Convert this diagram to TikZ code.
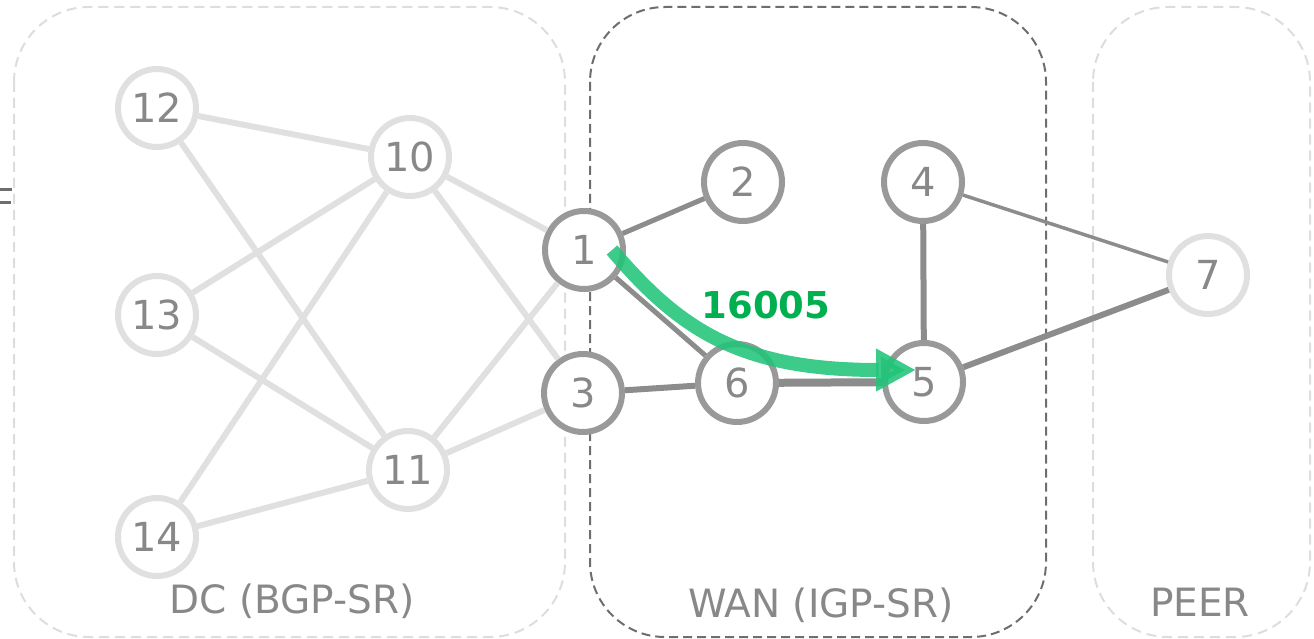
\documentclass[tikz,border=0pt]{standalone}
\usepackage{fontspec}
\setmainfont{DejaVu Sans}
\usetikzlibrary{arrows.meta}
\definecolor{lightg}{HTML}{E0E0E0}
\definecolor{darkg}{HTML}{999999}
\definecolor{edgeg}{HTML}{8C8C8C}
\definecolor{txtg}{HTML}{888888}
\definecolor{boxdark}{HTML}{6E6E6E}
\definecolor{boxlight}{HTML}{DDDDDD}
\definecolor{arrowgreen}{HTML}{22C47A}
\definecolor{labelgreen}{HTML}{00B050}
\tikzset{
  nd/.style={circle, minimum size=78pt, inner sep=0pt, line width=6pt, fill=white,
     text=txtg, font=\fontsize{40}{44}\selectfont},
  ndlight/.style={nd, draw=lightg},
  nddark/.style={nd, draw=darkg},
  ledge/.style={draw=lightg, line width=6pt},
  dedge/.style={draw=edgeg, line width=#1},
  regionlight/.style={draw=boxlight, line width=2pt, dash pattern=on 10pt off 6pt, rounded corners=75pt},
  regiondark/.style={draw=boxdark, line width=2pt, dash pattern=on 9pt off 5pt, rounded corners=75pt},
  regionlabel/.style={text=txtg, font=\fontsize{39}{42}\selectfont, inner sep=0pt},
}
\begin{document}
\begin{tikzpicture}[x=1pt, y=-1pt]
\useasboundingbox (0,0) rectangle (1314,639);
% regions
\draw[regionlight] (14,7) rectangle (565,637);
\draw[regiondark] (590,7) rectangle (1046,637);
\draw[regionlight] (1093,7) rectangle (1310,637);
% stray marks at left edge
\draw[draw=boxdark, line width=3pt] (0,190) -- (12,190);
\draw[draw=boxdark, line width=3pt] (0,203) -- (11,203);
% nodes
\node[ndlight] (n12) at (157,108) {12};
\node[ndlight] (n13) at (157,315) {13};
\node[ndlight] (n14) at (157,537) {14};
\node[ndlight] (n10) at (410,157) {10};
\node[ndlight] (n11) at (408,470) {11};
\node[nddark] (n1) at (584,250) {1};
\node[nddark] (n3) at (583,393) {3};
\node[nddark] (n2) at (743,182) {2};
\node[nddark] (n6) at (737,383) {6};
\node[nddark] (n4) at (923,182) {4};
\node[nddark] (n5) at (924,382) {5};
\node[ndlight] (n7) at (1208,275) {7};
% light edges
\draw[ledge] (n12) -- (n10);
\draw[ledge] (n12) -- (n11);
\draw[ledge] (n13) -- (n10);
\draw[ledge] (n13) -- (n11);
\draw[ledge] (n14) -- (n10);
\draw[ledge] (n14) -- (n11);
\draw[ledge] (n10) -- (n1);
\draw[ledge] (n10) -- (n3);
\draw[ledge] (n11) -- (n1);
\draw[ledge] (n11) -- (n3);
% dark edges
\draw[dedge=5pt] (n1) -- (n2);
\draw[dedge=5pt] (n1) -- (n6);
\draw[dedge=6pt] (n3) -- (n6);
\draw[dedge=8pt] (n6) -- (n5);
\draw[dedge=6pt] (n4) -- (n5);
\draw[dedge=3.5pt] (n4) -- (n7);
\draw[dedge=6pt] (n5) -- (n7);
% region labels
\node[regionlabel] (ldc) at (292,601) {DC (BGP-SR)};
\node[regionlabel] (lwan) at (821,605) {WAN (IGP-SR)};
\node[regionlabel] (lpeer) at (1200,602) {PEER};
% green path
\coordinate (gs) at (612,250);
\coordinate (ge) at (916,370);
\draw[draw=arrowgreen, line width=14pt, opacity=0.88,
  -{Triangle[length=40pt,width=40pt]}]
  (gs) .. controls (680,330) and (740,370) .. (ge);
\node[text=labelgreen, font=\bfseries\fontsize{37}{40}\selectfont, inner sep=0pt] (lbl) at (766,305) {16005};
\end{tikzpicture}
\end{document}
